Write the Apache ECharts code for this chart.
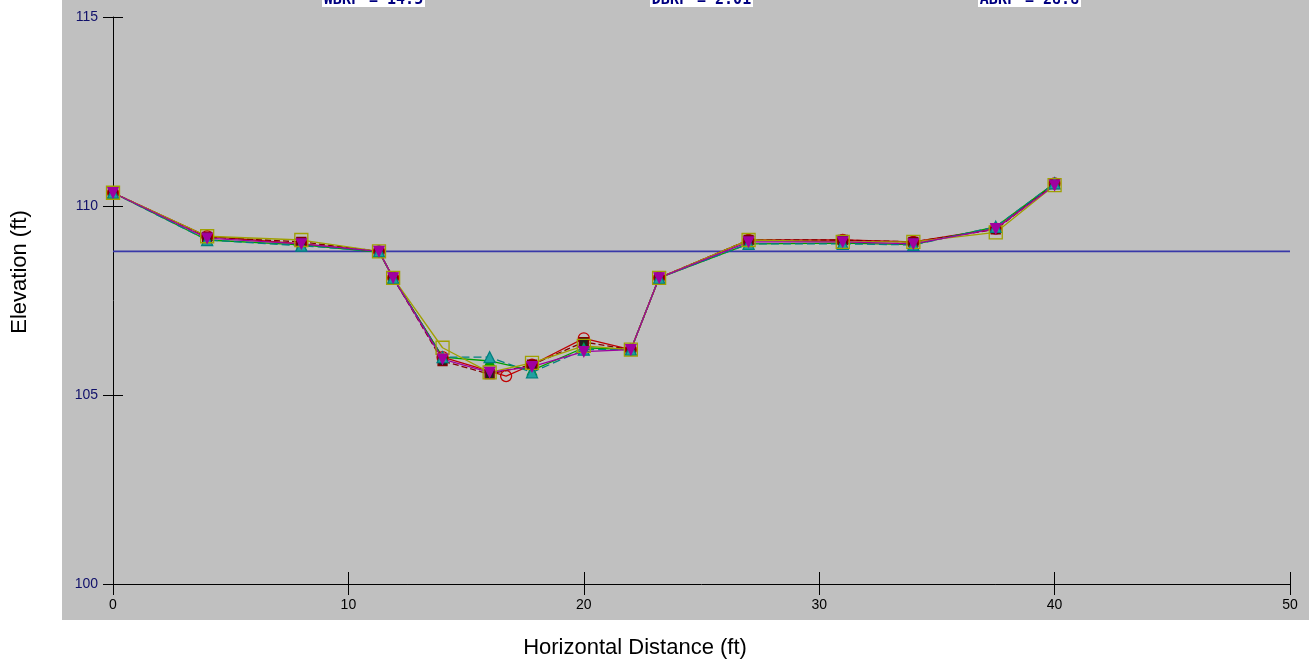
<!DOCTYPE html>
<html><head><meta charset="utf-8">
<script src="https://cdn.jsdelivr.net/npm/echarts@6/dist/echarts.min.js"></script>
<style>
html,body{margin:0;padding:0;background:#fff;}
#bg{position:absolute;left:62px;top:0;width:1247px;height:620px;background:#c0c0c0;}
#c{position:absolute;left:0;top:0;width:1309px;height:664px;}
</style></head>
<body><div id="bg"></div><div id="c"></div>
<script>
const xTicks = [0, 10, 20, 30, 40, 50];
const yTicks = [100, 105, 110, 115];
const bankfullElev = 108.8;
const topLabels = ['WBKF = 14.5', 'DBKF = 2.01', 'ABKF = 28.8'];

const squareSeries = [[0,110.35],[4,109.2],[8,109.1],[11.3,108.8],[11.9,108.1],[14,106.25],[16,105.6],[17.8,105.85],[20,106.3],[22,106.2],[23.2,108.1],[27,109.1],[31,109.05],[34,109.05],[37.5,109.3],[40,110.55]];
const circleSeries = [[0,110.35],[4,109.2],[8,109.0],[11.3,108.8],[11.9,108.1],[14,106.0],[16.7,105.5],[17.8,105.8],[20,106.5],[22,106.2],[23.2,108.1],[27,109.1],[31,109.1],[34,109.05],[37.5,109.4],[40,110.6]];
const triangleSeries = [[0,110.35],[4,109.1],[8,108.95],[11.3,108.8],[11.9,108.1],[14,106.0],[16,106.0],[17.8,105.6],[20,106.2],[22,106.2],[23.2,108.1],[27,109.0],[31,109.0],[34,108.97],[37.5,109.45],[40,110.6]];
const invTriSeries = [[0,110.35],[4,109.15],[8,109.0],[11.3,108.8],[11.9,108.1],[14,105.95],[16,105.6],[17.8,105.75],[20,106.15],[22,106.2],[23.2,108.1],[27,109.05],[31,109.05],[34,109.0],[37.5,109.4],[40,110.55]];
const greenSeries = [[0,110.35],[4,109.1],[8,108.97],[11.3,108.78],[11.9,108.1],[14,106.0],[16,105.9],[17.8,105.65],[20,106.25],[22,106.2],[23.2,108.1],[27,109.0],[31,109.02],[34,108.98],[37.5,109.45],[40,110.6]];
const maroonSeries = [[0,110.35],[4,109.18],[8,109.05],[11.3,108.8],[11.9,108.1],[14,105.9],[16,105.55],[17.8,105.8],[20,106.4],[22,106.2],[23.2,108.1],[27,109.1],[31,109.1],[34,109.05],[37.5,109.38],[40,110.58]];

const chart = echarts.init(document.getElementById('c'), null, {renderer:'canvas'});

function labelBox(x, text){
  return {type:'group', children:[
    {type:'rect', shape:{x:x, y:-10, width:103, height:17}, style:{fill:'#ffffff'}},
    {type:'text', x:x+51.5, y:0, style:{text:text, fill:'#000080', font:'bold 15px "DejaVu Sans Mono"', align:'center', verticalAlign:'middle'}}
  ]};
}

const baseX = {type:'value', min:0, max:50, interval:10, position:'bottom'};
const baseY = {type:'value', min:100, max:115, interval:5, position:'left'};

function lineSer(name, data, color, symbol, size, fill, lineType, rot){
  return {name:name, type:'line', data:data, symbol:symbol, symbolSize:size, symbolRotate:rot||0, showAllSymbol:true,
    lineStyle:{color:color, width:1.3, type:lineType}, itemStyle:{color:fill, borderColor:color, borderWidth:1.3},
    animation:false, z:3};
}

chart.setOption({
  backgroundColor:'transparent',
  animation:false,
  grid:{left:113, right:19, top:17, bottom:80},
  xAxis:[
    Object.assign({}, baseX, {axisLine:{lineStyle:{color:'#000', width:1}}, axisTick:{length:11, lineStyle:{color:'#000'}},
      axisLabel:{margin:14, color:'#000', fontSize:14, fontFamily:'Liberation Sans'}, splitLine:{show:false}}),
    Object.assign({}, baseX, {axisLine:{show:false}, axisTick:{inside:true, length:12, lineStyle:{color:'#000'}}, axisLabel:{show:false}, splitLine:{show:false}})
  ],
  yAxis:[
    Object.assign({}, baseY, {axisLine:{show:true, lineStyle:{color:'#000', width:1}}, axisTick:{show:true, length:10, lineStyle:{color:'#000'}},
      axisLabel:{margin:15, color:'#10106a', fontSize:14, fontFamily:'Liberation Sans'}, splitLine:{show:false}}),
    Object.assign({}, baseY, {axisLine:{show:false}, axisTick:{show:true, inside:true, length:10, lineStyle:{color:'#000'}}, axisLabel:{show:false}, splitLine:{show:false}})
  ],
  graphic:[
    labelBox(322, topLabels[0]),
    labelBox(650, topLabels[1]),
    labelBox(978, topLabels[2]),
    {type:'text', x:20, y:272, rotation:Math.PI/2, style:{text:'Elevation (ft)', fill:'#000', font:'22px "Liberation Sans"', align:'center', verticalAlign:'middle'}},
    {type:'text', x:635, y:648, style:{text:'Horizontal Distance (ft)', fill:'#000', font:'22px "Liberation Sans"', align:'center', verticalAlign:'middle'}}
  ],
  series:[
    {type:'line', data:[[xTicks[0], bankfullElev],[xTicks[xTicks.length-1], bankfullElev]], symbol:'none', lineStyle:{color:'#3838a8', width:1.6}, z:2, animation:false},
    lineSer('S2', circleSeries, '#c00000', 'circle', 11, 'rgba(0,0,0,0)', 'solid'),
    lineSer('S6', maroonSeries, '#800000', 'rect', 9, '#202020', [6,3]),
    lineSer('S5', greenSeries, '#00a000', 'triangle', 9, '#00a000', 'solid'),
    lineSer('S3', triangleSeries, '#008080', 'triangle', 11, '#20a0a0', [8,4]),
    lineSer('S1', squareSeries, '#a0a000', 'rect', 13, 'rgba(0,0,0,0)', 'solid'),
    lineSer('S4', invTriSeries, '#a000a0', 'triangle', 10, '#a000a0', 'solid', 180)
  ]
});
</script></body></html>
